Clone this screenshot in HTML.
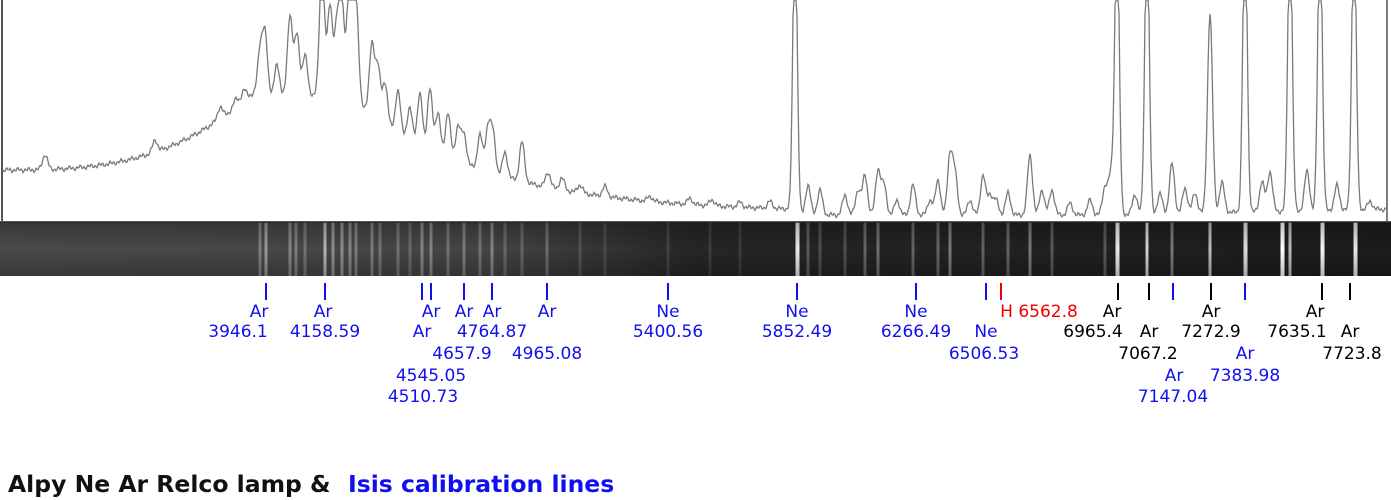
<!DOCTYPE html>
<html><head><meta charset="utf-8"><style>
html,body{margin:0;padding:0;background:#fff;width:1391px;height:500px;overflow:hidden}
svg{display:block}
text{font-family:"DejaVu Sans","Liberation Sans",sans-serif;font-size:17px}
</style></head><body>
<svg id="s" width="1391" height="500" xmlns="http://www.w3.org/2000/svg">
<defs>
<linearGradient id="g" x1="0" x2="1" y1="0" y2="0">
<stop offset="0" stop-color="#4a4a4a"/><stop offset="0.35" stop-color="#444"/>
<stop offset="0.5" stop-color="#262626"/><stop offset="1" stop-color="#1c1c1c"/>
</linearGradient>
<linearGradient id="v" x1="0" x2="0" y1="0" y2="1">
<stop offset="0" stop-color="#000" stop-opacity="0.25"/><stop offset="0.5" stop-color="#000" stop-opacity="0"/><stop offset="1" stop-color="#000" stop-opacity="0.25"/>
</linearGradient>
</defs>
<rect x="0" y="222" width="1391" height="54" fill="url(#g)"/>
<g id="lines"></g>
<rect x="0" y="222" width="1391" height="54" fill="url(#v)"/>
<line x1="0" y1="222" x2="1391" y2="222" stroke="#222" stroke-width="1.5"/>
<line x1="2" y1="0" x2="2" y2="222" stroke="#555" stroke-width="2"/>
<line x1="1387" y1="0" x2="1387" y2="222" stroke="#555" stroke-width="1.5"/>
<path id="curve" fill="none" stroke="#7a7a7a" stroke-width="1.3"/>
<g id="lab"></g>
<text x="8" y="492" style="font-size:23.5px;font-weight:bold" fill="#111">Alpy Ne Ar Relco lamp &amp;</text>
<text x="348" y="492" style="font-size:23.5px;font-weight:bold" fill="#1010ee">Isis calibration lines</text>
</svg>
<script>
var NS="http://www.w3.org/2000/svg";
var pk=[[45,15],[155,12],[220,12],[236,8],[244,10],[260,45],[265,60],[277,30],[290,80],[297,60],[305,40],[322,130],[330,90],[337,70],[342,90],[350,140],[356,100],[372,70],[378,50],[385,40],[398,40],[410,30],[420,50],[430,60],[438,40],[448,45],[458,35],[464,30],[480,35],[488,45],[493,40],[505,25],[522,40],[548,15],[562,12],[580,8],[605,10],[650,5],[690,6],[712,6],[740,5],[770,7],
[795,300],[808,30],[820,25],[845,20],[858,25],[865,40],[878,45],[884,30],[897,15],[913,30],[930,15],[938,35],[950,60],[955,40],[970,15],[983,40],[990,20],[996,15],[1008,22],[1030,60],[1042,25],[1052,25],[1070,12],[1090,15],[1105,28],[1111,40],[1117,300],[1135,20],[1147,300],[1160,20],[1172,50],[1185,25],[1195,20],[1210,200],[1222,30],[1245,300],[1262,30],[1270,40],[1290,300],[1307,40],[1320,300],[1337,25],[1354,300],[1370,8]];
function base(x){
 if(x<250) return 170-Math.pow(x/250,3)*75;
 if(x<350) return 95;
 if(x<790) return 95+ (1-Math.exp(-(x-350)/130))*118;
 return 215-(x>1100?(x-1100)*0.02:0);
}
var d="";
for(var x=3;x<=1386;x+=1){
 var y=base(x);
 for(var i=0;i<pk.length;i++){var dx=x-pk[i][0];var w=pk[i][1]>250?2.2:2.5;y-=pk[i][1]*Math.exp(-dx*dx/(2*w*w));}
 y+=Math.sin(x*1.7)*1.5+Math.sin(x*0.61)*1.2;
 if(y<0)y=0;
 d+=(x==3?"M":"L")+x+" "+y.toFixed(1);
}
document.getElementById("curve").setAttribute("d",d);
var L=document.getElementById("lines");
var sl=[[260,.3],[266,.45],[290,.35],[296,.3],[305,.25],[325,.6],[333,.4],[342,.4],[350,.35],[356,.3],[372,.3],[380,.25],[398,.25],[410,.2],[422,.35],[431,.35],[448,.25],[464,.3],[480,.25],[492,.35],[505,.2],[522,.2],[547,.25],[580,.15],[605,.12],[668,.12],[710,.1],[740,.1],
[797,.9],[808,.25],[820,.2],[845,.2],[865,.3],[878,.35],[913,.3],[938,.3],[950,.4],[983,.3],[1008,.3],[1030,.4],[1052,.25],[1105,.25],[1117,.9],[1147,.8],[1172,.4],[1210,.7],[1245,.85],[1282,1],[1290,.7],[1322,.95],[1355,.9]];
sl.forEach(function(a){var r=document.createElementNS(NS,"rect");r.setAttribute("x",a[0]-1.5);r.setAttribute("y",222);r.setAttribute("width",a[1]>.8?4:3);r.setAttribute("height",54);r.setAttribute("fill","#fff");r.setAttribute("fill-opacity",a[1]);L.appendChild(r);});
var B="#1010ee",K="#000",R="#e00";
var rows=[0,311,331,353,375,396];
var ticks=[[266,B],[325,B],[422,B],[431,B],[464,B],[492,B],[547,B],[668,B],[797,B],[916,B],[986,B],[1001,R],[1118,K],[1149,K],[1173,B],[1211,K],[1245,B],[1322,K],[1350,K]];
var labs=[[259,1,"Ar",B],[238,2,"3946.1",B],[323,1,"Ar",B],[325,2,"4158.59",B],[431,1,"Ar",B],[422,2,"Ar",B],[431,4,"4545.05",B],[423,5,"4510.73",B],
[464,1,"Ar",B],[462,3,"4657.9",B],[492,1,"Ar",B],[492,2,"4764.87",B],[547,1,"Ar",B],[547,3,"4965.08",B],[668,1,"Ne",B],[668,2,"5400.56",B],
[797,1,"Ne",B],[797,2,"5852.49",B],[916,1,"Ne",B],[916,2,"6266.49",B],[986,2,"Ne",B],[984,3,"6506.53",B],[1039,1,"H 6562.8",R],
[1112,1,"Ar",K],[1093,2,"6965.4",K],[1149,2,"Ar",K],[1148,3,"7067.2",K],[1174,4,"Ar",B],[1173,5,"7147.04",B],[1211,1,"Ar",K],[1211,2,"7272.9",K],
[1245,3,"Ar",B],[1245,4,"7383.98",B],[1315,1,"Ar",K],[1297,2,"7635.1",K],[1350,2,"Ar",K],[1352,3,"7723.8",K]];
var G=document.getElementById("lab");
ticks.forEach(function(t){var l=document.createElementNS(NS,"line");l.setAttribute("x1",t[0]);l.setAttribute("x2",t[0]);l.setAttribute("y1",283);l.setAttribute("y2",300);l.setAttribute("stroke",t[1]);l.setAttribute("stroke-width",2);G.appendChild(l);});
labs.forEach(function(a){var t=document.createElementNS(NS,"text");t.setAttribute("x",a[0]);t.setAttribute("y",rows[a[1]]+6);t.setAttribute("text-anchor","middle");t.setAttribute("fill",a[3]);t.textContent=a[2];G.appendChild(t);});
</script>
</body></html>
